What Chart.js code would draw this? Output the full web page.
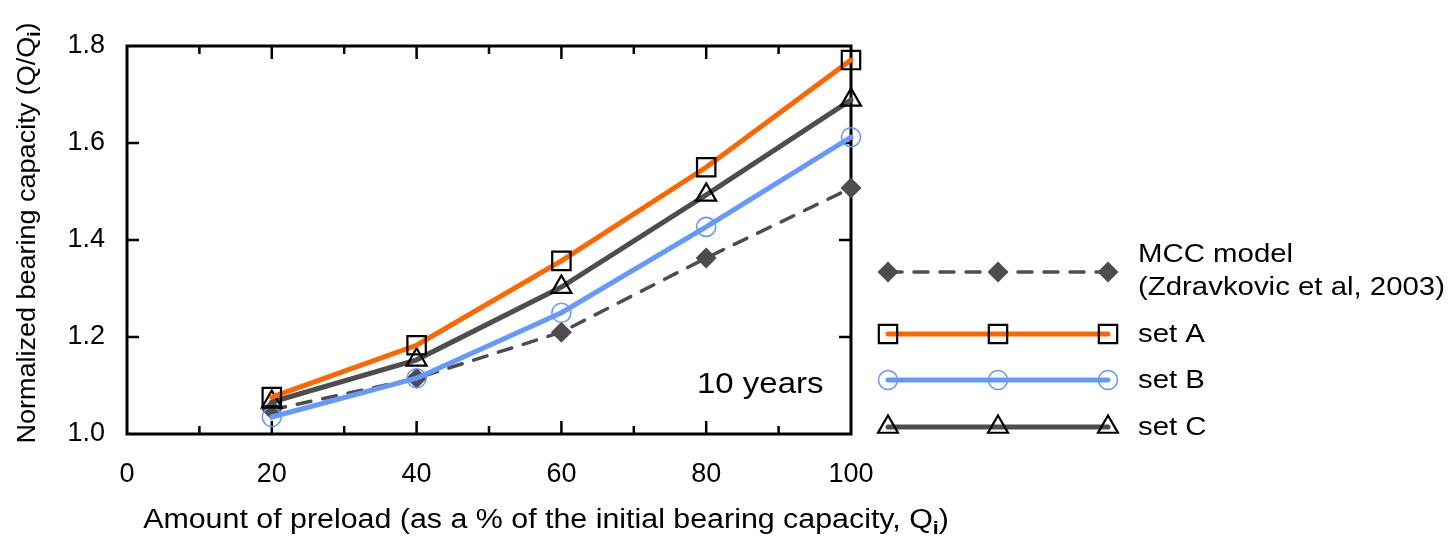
<!DOCTYPE html>
<html>
<head>
<meta charset="utf-8">
<script src="https://cdn.jsdelivr.net/npm/chart.js@4.4.1/dist/chart.umd.min.js"></script>
<style>
  html, body { margin: 0; padding: 0; background: #fff; }
  canvas { display: block; }
</style>
</head>
<body>
<canvas id="chart" width="1454" height="542"></canvas>
<script>
// preload as % of initial bearing capacity
const preload  = [20, 40, 60, 80, 100];
// normalized bearing capacity Q/Qi
const mccModel = [1.050, 1.115, 1.210, 1.363, 1.507];
const setA     = [1.076, 1.183, 1.357, 1.550, 1.771];
const setB     = [1.035, 1.115, 1.250, 1.427, 1.612];
const setC     = [1.066, 1.153, 1.303, 1.493, 1.689];

const xTicks = [0, 20, 40, 60, 80, 100];
const yTicks = [1.0, 1.2, 1.4, 1.6, 1.8];
const seriesNames = ['set A', 'set C', 'set B', 'MCC model'];
const mccLegendLines = ['MCC model', '(Zdravkovic et al, 2003)'];

const FONT = 'Arial, "Liberation Sans", sans-serif';
const ORANGE = '#ff6600', BLUE = '#6699ff', GREY = '#4d4d4d';

const pts = vals => preload.map((x, i) => ({ x, y: vals[i] }));

// ─── marker helper for the hand-drawn legend ─────────────────────────────────
function marker(ctx, style, x, y, r, fill, stroke, lw) {
  ctx.save();
  ctx.beginPath();
  if (style === 'rect') {
    const s = Math.SQRT1_2 * r;
    ctx.rect(x - s, y - s, 2 * s, 2 * s);
  } else if (style === 'circle') {
    ctx.arc(x, y, r, 0, Math.PI * 2);
  } else if (style === 'triangle') {
    ctx.moveTo(x, y - r);
    ctx.lineTo(x + r * Math.cos(Math.PI / 6), y + r * 0.5);
    ctx.lineTo(x - r * Math.cos(Math.PI / 6), y + r * 0.5);
    ctx.closePath();
  } else if (style === 'rectRot') {
    ctx.moveTo(x, y - r); ctx.lineTo(x + r, y); ctx.lineTo(x, y + r); ctx.lineTo(x - r, y);
    ctx.closePath();
  }
  if (fill) { ctx.fillStyle = fill; ctx.fill(); }
  if (stroke && lw) { ctx.strokeStyle = stroke; ctx.lineWidth = lw; ctx.stroke(); }
  ctx.restore();
}

// text with an optional subscript part, stretched a little horizontally like the source
function richText(ctx, parts, x, y, size, align, sx = 1.1) {
  const widths = parts.map(p => {
    ctx.font = (p.sub ? 'bold ' + Math.round(size * 0.7) : size) + 'px ' + FONT;
    return ctx.measureText(p.t).width * sx;
  });
  const total = widths.reduce((a, b) => a + b, 0);
  let cx = align === 'center' ? x - total / 2 : x;
  ctx.textAlign = 'left';
  ctx.textBaseline = 'middle';
  parts.forEach((p, i) => {
    ctx.save();
    ctx.font = (p.sub ? 'bold ' + Math.round(size * 0.7) : size) + 'px ' + FONT;
    ctx.translate(cx, y + (p.sub ? size * 0.28 : 0));
    ctx.scale(sx, 1);
    ctx.fillText(p.t, 0, 0);
    ctx.restore();
    cx += widths[i];
  });
}

// ─── frame, inward ticks ─────────────────────────────────────────────────────
const framePlugin = {
  id: 'frame',
  beforeDatasetsDraw(chart) {
    const { ctx, chartArea: a, scales: { x, y } } = chart;
    ctx.save();
    ctx.strokeStyle = '#000';
    ctx.lineWidth = 3;
    ctx.strokeRect(a.left, a.top, a.right - a.left, a.bottom - a.top);
    ctx.lineWidth = 2.5;
    for (let v = 10; v < 100; v += 10) {
      const px = x.getPixelForValue(v);
      const len = v % 20 === 0 ? 13 : 8;
      ctx.beginPath();
      ctx.moveTo(px, a.bottom); ctx.lineTo(px, a.bottom - len);
      ctx.moveTo(px, a.top);    ctx.lineTo(px, a.top + len);
      ctx.stroke();
    }
    yTicks.slice(1, -1).forEach(v => {
      const py = y.getPixelForValue(v);
      ctx.beginPath();
      ctx.moveTo(a.left, py);  ctx.lineTo(a.left + 12, py);
      ctx.moveTo(a.right, py); ctx.lineTo(a.right - 12, py);
      ctx.stroke();
    });
    ctx.restore();
  }
};

// ─── titles, annotation, legend ──────────────────────────────────────────────
const decorPlugin = {
  id: 'decor',
  afterDraw(chart) {
    const { ctx } = chart;
    ctx.save();
    ctx.fillStyle = '#000';

    richText(ctx, [{ t: 'Amount of preload (as a % of the initial bearing capacity, Q' }, { t: 'i', sub: true }, { t: ')' }],
      546, 521, 27, 'center', 1.125);

    ctx.save();
    ctx.translate(28, 233);
    ctx.rotate(-Math.PI / 2);
    richText(ctx, [{ t: 'Normalized bearing capacity (Q/Q' }, { t: 'i', sub: true }, { t: ')' }], 0, 0, 25, 'center', 1.08);
    ctx.restore();

    richText(ctx, [{ t: '10 years' }], 697, 385, 30, 'left');

    // legend
    const lx0 = 888, lx1 = 1108, textX = 1138;
    const rows = [
      { ds: 3, y: 272 },
      { ds: 0, y: 334 },
      { ds: 2, y: 380 },
      { ds: 1, y: 427 }
    ];
    rows.forEach(r => {
      const d = chart.data.datasets[r.ds];
      ctx.save();
      ctx.strokeStyle = d.borderColor;
      ctx.lineWidth = d.borderWidth;
      ctx.lineCap = 'round';
      ctx.setLineDash(d.borderDash || []);
      ctx.beginPath();
      ctx.moveTo(lx0, r.y); ctx.lineTo(lx1, r.y);
      ctx.stroke();
      ctx.restore();
      [lx0, (lx0 + lx1) / 2, lx1].forEach(mx =>
        marker(ctx, d.pointStyle, mx, r.y, d.pointRadius,
          d.pointBackgroundColor === 'transparent' ? null : d.pointBackgroundColor,
          d.pointBorderColor, d.pointBorderWidth));
      if (r.ds === 3) {
        richText(ctx, [{ t: mccLegendLines[0] }], textX, 255, 26, 'left', 1.13);
        richText(ctx, [{ t: mccLegendLines[1] }], textX, 288, 26, 'left', 1.13);
      } else {
        richText(ctx, [{ t: d.label }], textX, r.y + 1, 26, 'left', 1.13);
      }
    });
    ctx.restore();
  }
};

new Chart(document.getElementById('chart'), {
  type: 'line',
  data: {
    datasets: [
      {
        label: seriesNames[0], data: pts(setA),
        borderColor: ORANGE, borderWidth: 5,
        pointStyle: 'rect', pointRadius: 13,
        pointBackgroundColor: 'transparent', pointBorderColor: '#000', pointBorderWidth: 2.2
      },
      {
        label: seriesNames[1], data: pts(setC),
        borderColor: GREY, borderWidth: 5,
        pointStyle: 'triangle', pointRadius: 11.5,
        pointBackgroundColor: 'transparent', pointBorderColor: '#000', pointBorderWidth: 2.2
      },
      {
        label: seriesNames[2], data: pts(setB),
        borderColor: BLUE, borderWidth: 5,
        pointStyle: 'circle', pointRadius: 9.5,
        pointBackgroundColor: 'transparent', pointBorderColor: BLUE, pointBorderWidth: 1.6
      },
      {
        label: seriesNames[3], data: pts(mccModel),
        borderColor: GREY, borderWidth: 3.5, borderDash: [14, 12],
        pointStyle: 'rectRot', pointRadius: 10.5,
        pointBackgroundColor: GREY, pointBorderColor: GREY, pointBorderWidth: 0
      }
    ]
  },
  options: {
    responsive: false,
    animation: false,
    clip: false,
    layout: { padding: { top: 46, right: 603, left: 0, bottom: 0 } },
    plugins: { legend: { display: false }, tooltip: { enabled: false } },
    elements: { line: { tension: 0, borderCapStyle: 'round' } },
    scales: {
      x: {
        type: 'linear', min: 0, max: 100,
        afterFit: s => { s.height = 108; },
        afterBuildTicks: s => { s.ticks = xTicks.map(v => ({ value: v })); },
        grid: { display: false, drawTicks: false },
        border: { display: false },
        ticks: { color: '#000', font: { family: FONT, size: 27 }, padding: 24 }
      },
      y: {
        min: 1.0, max: 1.8,
        afterFit: s => { s.width = 127; },
        afterBuildTicks: s => { s.ticks = yTicks.map(v => ({ value: v })); },
        grid: { display: false, drawTicks: false },
        border: { display: false },
        ticks: { color: '#000', font: { family: FONT, size: 27 }, padding: 22, callback: v => v.toFixed(1) }
      }
    }
  },
  plugins: [framePlugin, decorPlugin]
});
</script>
</body>
</html>
